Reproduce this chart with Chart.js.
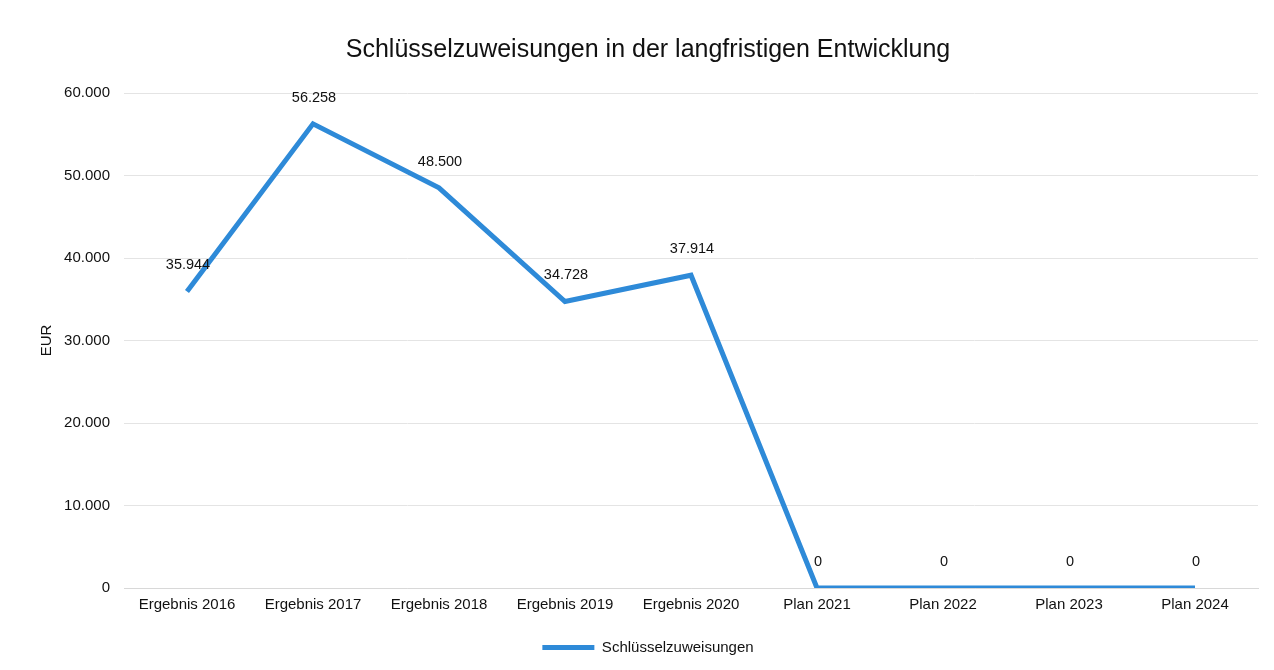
<!DOCTYPE html>
<html>
<head>
<meta charset="utf-8">
<script src="https://cdn.jsdelivr.net/npm/chart.js@4"></script>
<style>
  html, body { margin: 0; padding: 0; background: #fff; }
  #wrap { width: 1274px; height: 670px; }
</style>
</head>
<body>
<div id="wrap"><canvas id="lineChart"></canvas></div>
<script>
const categories = ['Ergebnis 2016', 'Ergebnis 2017', 'Ergebnis 2018', 'Ergebnis 2019', 'Ergebnis 2020',
    'Plan 2021', 'Plan 2022', 'Plan 2023', 'Plan 2024'];
const schluesselzuweisungen = [35944, 56258, 48500, 34728, 37914, 0, 0, 0, 0];
const yTicks = [0, 10000, 20000, 30000, 40000, 50000, 60000];

function fmt(v) {
    return String(v).replace(/\B(?=(\d{3})+(?!\d))/g, '.');
}

/* value labels above the points */
const valueLabels = {
    id: 'valueLabels',
    afterDatasetsDraw(chart) {
        const ctx = chart.ctx;
        const meta = chart.getDatasetMeta(0);
        ctx.save();
        ctx.font = '14.5px "Liberation Sans", Arial, sans-serif';
        ctx.fillStyle = '#111';
        ctx.textAlign = 'center';
        ctx.textBaseline = 'middle';
        meta.data.forEach((pt, i) => {
            ctx.fillText(fmt(chart.data.datasets[0].data[i]), pt.x + 1, pt.y - 26);
        });
        ctx.restore();
    }
};

Chart.defaults.font.family = '"Liberation Sans", Arial, sans-serif';
Chart.defaults.color = '#111';

new Chart(document.getElementById('lineChart'), {
    type: 'line',
    data: {
        labels: categories,
        datasets: [{
            label: 'Schlüsselzuweisungen',
            data: schluesselzuweisungen,
            borderColor: '#2e8ad8',
            backgroundColor: '#2e8ad8',
            borderWidth: 5,
            pointRadius: 0,
            tension: 0
        }]
    },
    options: {
        responsive: true,
        maintainAspectRatio: false,
        animation: false,
        layout: { padding: { left: 38, right: 16, top: 35, bottom: 5 } },
        plugins: {
            title: {
                display: true,
                text: 'Schlüsselzuweisungen in der langfristigen Entwicklung',
                font: { size: 25, weight: 'normal' },
                color: '#111',
                padding: { top: 0, bottom: 28 }
            },
            legend: {
                position: 'bottom',
                labels: {
                    usePointStyle: true,
                    pointStyle: 'line',
                    pointStyleWidth: 52,
                    font: { size: 15 },
                    padding: 10
                }
            },
            tooltip: { enabled: false }
        },
        scales: {
            x: {
                offset: true,
                grid: { display: false, drawTicks: false },
                border: { color: '#d8d8d8' },
                ticks: { font: { size: 15 }, maxRotation: 0, padding: 8 },
                afterFit(axis) { axis.height = 42; }
            },
            y: {
                min: 0,
                max: 60000,
                afterBuildTicks(axis) { axis.ticks = yTicks.map(v => ({ value: v })); },
                afterFit(axis) { axis.width = 86; },
                grid: { color: '#e4e4e4', drawTicks: false },
                border: { display: false },
                ticks: { font: { size: 15 }, padding: 14, callback: v => fmt(v) },
                title: { display: true, text: 'EUR', font: { size: 15 }, padding: { top: 0, bottom: 0 } }
            }
        }
    },
    plugins: [valueLabels]
});
</script>
</body>
</html>
